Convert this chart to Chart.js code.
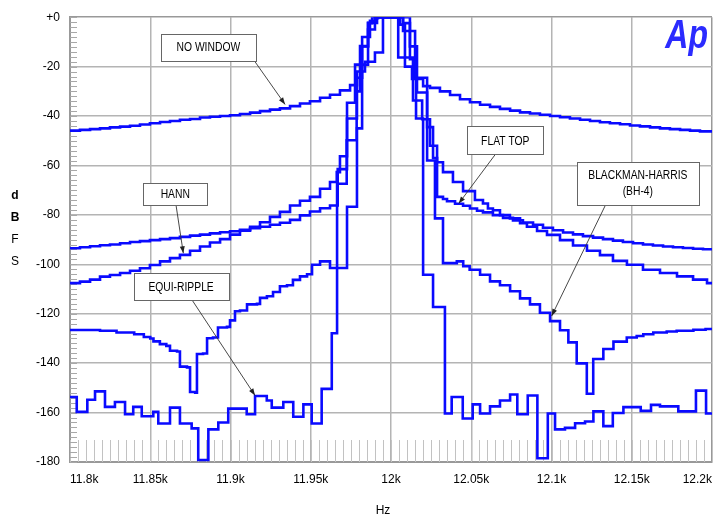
<!DOCTYPE html>
<html>
<head>
<meta charset="utf-8">
<script src="https://cdn.jsdelivr.net/npm/chart.js@4.4.1/dist/chart.umd.min.js"></script>
<style>
  html, body { margin: 0; padding: 0; background: #fff; }
  canvas { display: block; }
</style>
</head>
<body>
<canvas id="fft" width="723" height="517"></canvas>
<script>
// FFT of a ~12 kHz tone through five windows.
// Each point starts a step: the level holds until the next frequency.
const noWindowHz = [11800, 11806.2, 11812.5, 11818.7, 11824.9, 11831.2, 11837.4, 11843.6, 11849.8, 11856.1, 11862.3, 11868.5, 11874.8, 11881, 11887.2, 11893.5, 11899.7, 11905.9, 11912.2, 11918.4, 11924.6, 11930.8, 11937.1, 11943.3, 11949.5, 11955.8, 11962, 11968.2, 11974.5,
  11978.8, 11983.8, 11990, 11995, 12004.5, 12008.7, 12013.1,
  12020, 12024.3, 12030.5, 12036.8, 12043, 12049.2, 12055.5, 12061.7, 12067.9, 12074.2, 12080.4, 12086.6, 12092.8, 12099.1, 12105.3, 12111.5, 12117.8, 12124, 12130.2, 12136.4, 12142.7, 12148.9, 12155.1, 12161.4, 12167.6, 12173.8, 12180.1, 12186.3, 12192.5, 12200];
const noWindowDb = [-45.9, -45.6, -45.3, -45.0, -44.6, -44.3, -43.9, -43.4, -42.9, -42.4, -42.0, -41.5, -41.2, -40.6, -40.3, -40.0, -39.7, -39.2, -38.6, -38.0, -37.4, -36.9, -36.0, -34.9, -34.0, -32.6, -31.4, -29.6, -27.5,
  -22, -18, -14.3, 0, -16.3, -20, -25,
  -27.9, -28.6, -30.0, -31.5, -33.2, -34.4, -35.4, -36.3, -37.1, -37.8, -38.5, -39.0, -39.5, -40.0, -40.5, -41.0, -41.5, -42.0, -42.5, -42.9, -43.3, -43.8, -44.2, -44.6, -45.0, -45.3, -45.6, -45.9, -46.2, -46.5];

const hannHz = [11800, 11806.2, 11812.5, 11818.7, 11824.9, 11831.2, 11837.4, 11843.6, 11849.8, 11856.1, 11862.3, 11868.5, 11874.8, 11881, 11887.2, 11893.5, 11899.7, 11905.9, 11912.2, 11918.4, 11924.6, 11930.8, 11937.1, 11943.3, 11949.5, 11955.8, 11962, 11966.2, 11968.2,
  11972.6, 11977.6, 11982, 11986.9, 11990, 12005.6, 12008.7, 12013.7, 12019.4, 12024.3,
  12028.7, 12032.4, 12038.6, 12044.9, 12052.3, 12057.3, 12060.4, 12063.5, 12067.9, 12074.1, 12080.4, 12084.7, 12091, 12097.2, 12105.3, 12113.4, 12122.1, 12130.2, 12138.3, 12147, 12157, 12167.6, 12178.2, 12188.2, 12196.9, 12200];
const hannDb = [-107.6, -107.0, -106.2, -105.0, -104.3, -103.5, -102.6, -101.6, -100.3, -98.8, -97.5, -96.2, -94.5, -92.8, -91.2, -89.8, -88.0, -86.4, -84.8, -83.0, -80.8, -78.8, -76.2, -74.3, -72.7, -69.4, -66.7, -62.7, -56.3,
  -34.6, -19.2, -8, -1.5, 0, -3, -16.3, -33.7, -41.3, -52,
  -58.7, -62.7, -66.7, -70.4, -74.0, -75.4, -77.4, -78.1, -80.1, -81.4, -83.4, -84.8, -86.5, -88.1, -90.2, -92.4, -94.5, -96.3, -98.6, -100.2, -102.2, -103.5, -104.9, -106.2, -107.6, -107.6];

const flatTopHz = [11800, 11806.2, 11812.5, 11818.7, 11824.9, 11831.2, 11837.4, 11843.6, 11849.8, 11856.1, 11862.3, 11868.5, 11874.8, 11881, 11887.2, 11893.5, 11899.7, 11905.9, 11912.2, 11918.4, 11924.6, 11930.8, 11937.1, 11943.3, 11949.5, 11955.8, 11962,
  11966.8, 11972.6, 11978.8, 11982, 11985.7, 11988.2, 12011.8, 12015, 12022.5, 12026.2,
  12028.7, 12032.4, 12034.9, 12039.9, 12044.9, 12049.2, 12053.6, 12057.3, 12063.5, 12069.8, 12076, 12082.2, 12088.5, 12094.7, 12100.9, 12107.2, 12113.4, 12119.6, 12125.9, 12132.1, 12138.3, 12144.5, 12150.8, 12157, 12163.2, 12169.5, 12175.7, 12181.9, 12188.2, 12194.4, 12200];
const flatTopDb = [-93.5, -93.1, -92.7, -92.3, -92.0, -91.5, -91.0, -90.6, -90.2, -89.8, -89.4, -88.9, -88.4, -88.0, -87.5, -87.0, -86.6, -86.0, -85.4, -84.8, -84.0, -83.2, -82.0, -80.2, -78.6, -77.3, -76.2,
  -61.5, -41, -24.5, -11.8, -2.4, 0, -5.6, -24.5, -44.5, -57,
  -72.7, -73.6, -74.5, -75.5, -76.3, -77.4, -78.3, -79.0, -80.1, -81.2, -82.2, -83.1, -84.0, -85.2, -86.2, -87.1, -87.9, -88.6, -89.2, -89.8, -90.4, -91.0, -91.5, -92.0, -92.4, -92.8, -93.1, -93.4, -93.7, -93.9, -93.9];

const bh4Hz = [11800, 11818.7, 11829, 11840, 11846, 11850, 11852, 11856, 11860, 11862.3, 11866.7, 11868.5, 11872.9, 11874.8, 11878, 11879.1, 11882.9, 11885.4, 11889.1, 11892.2, 11897.8, 11899.7, 11902.8, 11905.9, 11910.3, 11916.5, 11918.4, 11922.7, 11926.5, 11930.8, 11935.2, 11938.9, 11943.3, 11947.7, 11950.8, 11955.8, 11962,
  11972.6, 11978.8, 11982, 11985.7, 11990, 11991.9, 12007.5, 12011.8, 12016.2, 12022.5, 12027.4,
  12032.4, 12041, 12045, 12049, 12055.5, 12061.7, 12067.9, 12074.2, 12080.4, 12086.6, 12092.8, 12099.1, 12105.3, 12110.5, 12115.7, 12122, 12126, 12132.3, 12138.6, 12146.9, 12153.1, 12157.2, 12163.4, 12171.8, 12178, 12188.4, 12196, 12200];
const bh4Db = [-126.6, -126.9, -127.6, -128.3, -129.4, -130.0, -131.2, -132.3, -133.0, -135.0, -135.3, -141.4, -141.7, -151.7, -152.0, -136.3, -136.1, -129.9, -129.6, -125.6, -125.3, -122.7, -119.0, -118.7, -116.2, -116.0, -113.6, -112.9, -111.2, -108.9, -108.5, -106.3, -104.9, -104.0, -100.2, -98.8, -101.5,
  -76.7, -45, -19.2, -5, -0.4, 0, -2.4, -11.8, -30.5, -58, -81.4,
  -99.5, -98.8, -100.8, -102.2, -104.2, -106.9, -108.5, -110.9, -113.8, -116.2, -119.6, -123.0, -126.7, -131.6, -140.1, -152.4, -138.3, -134.3, -131.3, -129.6, -129.0, -128.3, -127.6, -127.2, -126.9, -126.5, -126.2, -126.2];

const equiRippleHz = [11800, 11804.2, 11810.8, 11815.6, 11821.8, 11828, 11834.3, 11839.4, 11844.7, 11851.9, 11855, 11862.3, 11868.5, 11875.8, 11879.9, 11886.2, 11892.4, 11898.6, 11910.1, 11915.3, 11922.6, 11925.7, 11932.9, 11939.1, 11945.4, 11950.6, 11956.8, 11963.1,
  11966.4, 11972.4, 11978.6, 11980.7, 11985.7, 11991.3, 12007.5, 12011.8, 12015.6, 12020, 12026.2,
  12033.6, 12037.8, 12044.7, 12050.9, 12055.5, 12061.7, 12067.9, 12074.2, 12078.7, 12085.2, 12091.2, 12097.7, 12102.2, 12108.4, 12114.7, 12120.9, 12126.1, 12132.3, 12138.2, 12144.8, 12155.6, 12162, 12167.6, 12179, 12190, 12196.3, 12200];
const equiRippleDb = [-153.7, -159.7, -154.8, -151.4, -157.7, -155.7, -160.7, -157.7, -161.5, -159.7, -164.4, -158.0, -164.4, -166.4, -179.2, -166.8, -164.0, -158.4, -160.7, -153.3, -155.1, -158.0, -155.7, -161.7, -156.7, -164.4, -150.4, -127.9,
  -67.4, -49.8, -30, -11.7, -2.3, 0, -5.6, -17, -41, -104.2, -117.3,
  -160.4, -153.7, -162.4, -156.7, -160.4, -157.5, -155.1, -152.7, -160.7, -153.1, -178.5, -160.4, -166.8, -166.2, -164.3, -163.6, -159.5, -165.5, -160.2, -157.8, -159.3, -156.9, -157.5, -159.5, -151.1, -160.4, -160.4];

const freqTicks = [11800, 11850, 11900, 11950, 12000, 12050, 12100, 12150, 12200];
const levelTicks = [0, -20, -40, -60, -80, -100, -120, -140, -160, -180];

function pairs(hz, db) {
  return hz.map((f, i) => ({ x: f, y: db[i] }));
}

function trace(label, hz, db) {
  return {
    label: label,
    data: pairs(hz, db),
    borderColor: '#0a0aff',
    borderWidth: 2.6,
    pointRadius: 0,
    stepped: true,
    fill: false
  };
}

// callout boxes, placed in Hz / dBFS
const notes = [
  { lines: ['NO WINDOW'], hz: 11886.2, db: -12.1, w: 95, h: 27, fromHz: 11914.6, fromDb: -17.4, toHz: 11934, toDb: -35.3 },
  { lines: ['HANN'], hz: 11865.6, db: -71.4, w: 64, h: 22, fromHz: 11866, fromDb: -75.8, toHz: 11870.6, toDb: -95.5 },
  { lines: ['EQUI-RIPPLE'], hz: 11869.2, db: -108.9, w: 95, h: 27, fromHz: 11875.8, fromDb: -114.2, toHz: 11915.3, toDb: -153.1 },
  { lines: ['FLAT TOP'], hz: 12071.2, db: -49.8, w: 76, h: 28, fromHz: 12064.8, fromDb: -55.7, toHz: 12042.2, toDb: -75.4 },
  { lines: ['BLACKMAN-HARRIS', '(BH-4)'], hz: 12153.8, db: -67.1, w: 122, h: 43, fromHz: 12133.8, fromDb: -75.8, toHz: 12100.1, toDb: -120.9 }
];

const FONT = '"Liberation Sans", Arial, sans-serif';

function narrowText(ctx, text, x, y, sx) {
  ctx.save();
  ctx.translate(x, y);
  ctx.scale(sx, 1);
  ctx.fillText(text, 0, 0);
  ctx.restore();
}

const minorTicks = {
  id: 'minorTicks',
  beforeDatasetsDraw(chart) {
    const { ctx, chartArea: a, scales: { x, y } } = chart;
    ctx.save();
    ctx.lineWidth = 1;
    ctx.strokeStyle = '#c2c2c2';
    ctx.beginPath();
    for (let v = x.min; v <= x.max; v += 5) {
      const px = Math.round(x.getPixelForValue(v)) + 0.5;
      ctx.moveTo(px, a.bottom);
      ctx.lineTo(px, a.bottom - 22);
    }
    ctx.stroke();
    ctx.strokeStyle = '#a8a8a8';
    ctx.beginPath();
    for (let v = y.min; v <= y.max; v += 2) {
      const py = Math.round(y.getPixelForValue(v)) + 0.5;
      ctx.moveTo(a.left, py);
      ctx.lineTo(a.left + 7, py);
    }
    ctx.stroke();
    ctx.restore();
  }
};

const callouts = {
  id: 'callouts',
  afterDatasetsDraw(chart) {
    const { ctx, scales: { x, y } } = chart;
    ctx.save();
    notes.forEach(n => {
      const x0 = x.getPixelForValue(n.fromHz), y0 = y.getPixelForValue(n.fromDb);
      const x1 = x.getPixelForValue(n.toHz), y1 = y.getPixelForValue(n.toDb);
      ctx.strokeStyle = '#333';
      ctx.lineWidth = 0.9;
      ctx.beginPath();
      ctx.moveTo(x0, y0);
      ctx.lineTo(x1, y1);
      ctx.stroke();
      const ang = Math.atan2(y1 - y0, x1 - x0);
      ctx.fillStyle = '#222';
      ctx.beginPath();
      ctx.moveTo(x1, y1);
      ctx.lineTo(x1 - 7 * Math.cos(ang) + 2.5 * Math.sin(ang), y1 - 7 * Math.sin(ang) - 2.5 * Math.cos(ang));
      ctx.lineTo(x1 - 7 * Math.cos(ang) - 2.5 * Math.sin(ang), y1 - 7 * Math.sin(ang) + 2.5 * Math.cos(ang));
      ctx.closePath();
      ctx.fill();

      const cx = x.getPixelForValue(n.hz), cy = y.getPixelForValue(n.db);
      const left = Math.round(cx - n.w / 2) + 0.5, top = Math.round(cy - n.h / 2) + 0.5;
      ctx.fillStyle = '#fff';
      ctx.fillRect(left, top, n.w, n.h);
      ctx.strokeStyle = '#666';
      ctx.lineWidth = 1;
      ctx.strokeRect(left, top, n.w, n.h);
      ctx.fillStyle = '#000';
      ctx.font = '12px ' + FONT;
      ctx.textAlign = 'center';
      ctx.textBaseline = 'middle';
      const lh = 16;
      n.lines.forEach((t, i) => {
        narrowText(ctx, t, cx, cy + (i - (n.lines.length - 1) / 2) * lh + 1, 0.86);
      });
    });
    ctx.restore();
  },
  afterDraw(chart) {
    const { ctx, chartArea: a } = chart;
    ctx.save();
    // Ap logo
    ctx.fillStyle = '#2b2bff';
    ctx.font = 'italic bold 40px ' + FONT;
    ctx.textAlign = 'right';
    ctx.textBaseline = 'alphabetic';
    narrowText(ctx, 'Ap', a.right - 4, a.top + 31, 0.8);
    // axis titles
    ctx.fillStyle = '#000';
    ctx.textAlign = 'center';
    ctx.textBaseline = 'middle';
    const mid = (a.top + a.bottom) / 2;
    ['d', 'B', 'F', 'S'].forEach((ch, i) => {
      ctx.font = (i < 2 ? 'bold ' : '') + '12px ' + FONT;
      ctx.fillText(ch, 15, mid - 44 + i * 22);
    });
    ctx.font = '12px ' + FONT;
    ctx.fillText('Hz', (a.left + a.right) / 2 - 8, chart.height - 6);
    ctx.restore();
  }
};

Chart.defaults.font.family = FONT;
Chart.defaults.font.size = 12;
Chart.defaults.color = '#000';

const edgeColor = c => (c.tick && (c.index === 0 || c.index === c.chart.scales[c.scale.id].ticks.length - 1)) ? '#999' : '#b4b4b4';

new Chart(document.getElementById('fft'), {
  type: 'line',
  data: {
    datasets: [
      trace('NO WINDOW', noWindowHz, noWindowDb),
      trace('HANN', hannHz, hannDb),
      trace('FLAT TOP', flatTopHz, flatTopDb),
      trace('BLACKMAN-HARRIS (BH-4)', bh4Hz, bh4Db),
      trace('EQUI-RIPPLE', equiRippleHz, equiRippleDb)
    ]
  },
  options: {
    responsive: false,
    animation: false,
    layout: { padding: { top: 14, right: 11, left: 0, bottom: 0 } },
    plugins: { legend: { display: false }, tooltip: { enabled: false } },
    scales: {
      x: {
        type: 'linear',
        min: 11800,
        max: 12200,
        afterBuildTicks: s => { s.ticks = freqTicks.map(v => ({ value: v })); },
        afterFit: s => { s.height = 55; s.paddingLeft = 0; s.paddingRight = 0; },
        ticks: {
          autoSkip: false,
          maxRotation: 0,
          align: 'inner',
          padding: 10,
          callback: v => +(v / 1000).toFixed(3) + 'k'
        },
        grid: { color: edgeColor, lineWidth: 1.5, drawTicks: false },
        border: { color: '#999', width: 2 }
      },
      y: {
        min: -180,
        max: 0,
        afterBuildTicks: s => { s.ticks = levelTicks.slice().reverse().map(v => ({ value: v })); },
        afterFit: s => { s.width = 70; },
        ticks: {
          padding: 10,
          callback: v => v === 0 ? '+0' : String(v)
        },
        grid: { color: edgeColor, lineWidth: 1.5, drawTicks: false },
        border: { color: '#999', width: 2 }
      }
    }
  },
  plugins: [minorTicks, callouts]
});
</script>
</body>
</html>
